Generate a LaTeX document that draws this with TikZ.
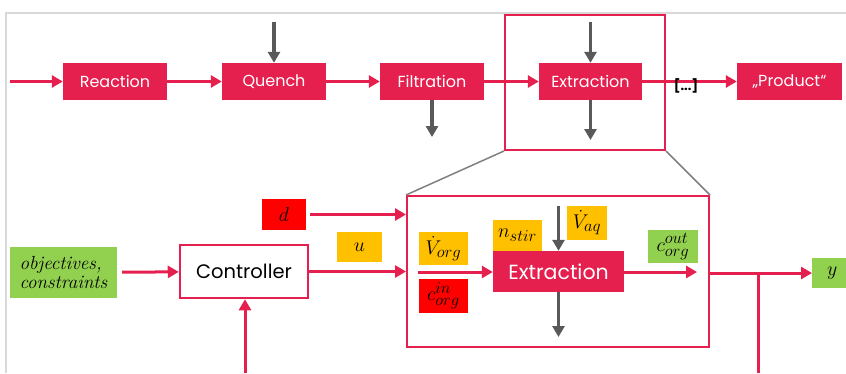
\documentclass[tikz,border=0pt]{standalone}
\usepackage{fontspec}
\newfontfamily\pop{Poppins}
\usetikzlibrary{arrows.meta}
\definecolor{crim}{HTML}{E51F4E}
\definecolor{ylw}{HTML}{FFC000}
\definecolor{grn}{HTML}{92D050}
\definecolor{pred}{HTML}{FF0000}
\definecolor{darkg}{HTML}{595959}
\definecolor{frameg}{HTML}{D9D9D9}
\newcommand\mlab[1]{\scalebox{1.15}{$#1$}}
\begin{document}
\begin{tikzpicture}[x=1pt,y=-1pt,
  proc/.style={fill=crim, text=white, font=\pop\fontsize{16}{18}\selectfont, minimum width=104pt, minimum height=37pt, inner sep=0pt},
  lbl/.style={inner sep=0pt, font=\fontsize{19}{21}\selectfont},
  redarr/.style={crim, line width=3pt, -{Triangle[length=11pt,width=12pt]}},
  redline/.style={crim, line width=3pt},
  grayarr/.style={darkg, line width=3.5pt, -{Triangle[length=11pt,width=12pt]}},
  zoomline/.style={gray, line width=1.5pt}
]
\useasboundingbox (0,0) rectangle (846,373);
% outer light frame
\draw[frameg, line width=1.5pt] (6,373) -- (6,13) -- (846,13);

% top row
\node[proc] (reac) at (115,81.5) {Reaction};
\node[proc] (quen) at (274,81.5) {Quench};
\node[proc] (filt) at (432,81.5) {Filtration};
\node[proc, minimum width=103pt] (extr) at (590.5,81.5) {Extraction};
\node[proc, minimum width=105pt] (prod) at (789.5,81.5) {„Product“};
\coordinate (startl) at (10,81.5);
\coordinate (quenin) at (274,22);
\coordinate (filtout) at (432,137);
\coordinate (extrin) at (590.5,22);
\coordinate (extrout) at (590.5,140);

\draw[redarr] (startl) -- (reac);
\draw[redarr] (reac) -- (quen);
\draw[redarr] (quen) -- (filt);
\draw[redarr] (filt) -- (extr);
\draw[redarr] (extr) -- (prod);
\node[font=\pop\bfseries\fontsize{13}{15}\selectfont, text=black, inner sep=0pt] (dots) at (686,86) {[...]};
\draw[grayarr] (quenin) -- (quen.north);
\draw[grayarr] (filt.south) -- (filtout);
\draw[grayarr] (extrin) -- (extr.north);
\draw[grayarr] (extr.south) -- (extrout);

% zoom box
\node[draw=crim, line width=2pt, minimum width=160pt, minimum height=135pt, inner sep=0pt] (zoom) at (585,82.5) {};

% bottom frame
\node[draw=crim, line width=2pt, minimum width=302pt, minimum height=151pt, inner sep=0pt] (frame) at (558,271.5) {};
\draw[zoomline] (zoom.south west) -- (frame.north west);
\draw[zoomline] (zoom.south east) -- (frame.north east);

% inner extraction
\node[proc, minimum width=131pt, minimum height=41pt, font=\pop\fontsize{20.5}{23}\selectfont] (iext) at (558.5,271.5) {Extraction};
\node[lbl, fill=ylw, minimum width=49pt, minimum height=33pt] (vorg) at (443.5,248.5) {\mlab{\dot V_{org}}};
\node[lbl, fill=pred, minimum width=49pt, minimum height=34pt] (cin) at (443.5,296) {\mlab{c^{in}_{org}}};
\node[lbl, fill=ylw, minimum width=49pt, minimum height=31pt] (nstir) at (517.5,235.5) {\mlab{n_{stir}}};
\node[lbl, fill=ylw, minimum width=40pt, minimum height=34pt] (vaq) at (587,223) {\mlab{\dot V_{aq}}};
\node[lbl, fill=grn, minimum width=50pt, minimum height=33pt] (cout) at (673,246.5) {\mlab{c^{out}_{org}}};
\coordinate (iin) at (418,272);
\coordinate (iout) at (697,272);
\coordinate (aqin) at (558.5,206);
\coordinate (aqout) at (558.5,337);
\draw[redarr] (iin) -- (iext.west |- iin);
\draw[redarr] (iext.east |- iout) -- (iout);
\draw[grayarr] (aqin) -- (iext.north -| aqin);
\draw[grayarr] (iext.south -| aqout) -- (aqout);

% controller
\node[draw=crim, line width=2.5pt, fill=white, minimum width=128pt, minimum height=53pt, inner sep=0pt, font=\pop\fontsize{19.5}{22}\selectfont] (ctrl) at (244,271.5) {Controller};
\node[lbl, fill=grn, minimum width=107pt, minimum height=51pt, align=left, font=\fontsize{19}{20}\selectfont] (obj) at (63.5,272.5) {\textit{objectives,}\\[-1pt]\textit{constraints}};
\node[lbl, fill=pred, minimum width=44pt, minimum height=31pt] (dd) at (284,214.5) {\mlab{d}};
\node[lbl, fill=ylw, minimum width=45pt, minimum height=30pt] (uu) at (359.5,247) {\mlab{u}};
\node[lbl, fill=grn, minimum width=40pt, minimum height=30pt, anchor=west] (yy) at (812,273) {\mlab{y}};

\draw[redarr, shorten <=5pt] (obj) -- (ctrl);
\draw[redarr] (ctrl) -- (ctrl -| frame.west);
\draw[redarr, shorten <=4pt] (dd) -- (dd -| frame.west);
\coordinate (fb) at (758,272);
\coordinate (fbend) at (758,373);
\coordinate (fbc) at (245,373);
\draw[redarr] (frame.east |- yy) -- (yy);
\draw[redline] (fb) -- (fbend);
\draw[redarr] (fbc) -- (ctrl.south -| fbc);
\end{tikzpicture}
\end{document}
